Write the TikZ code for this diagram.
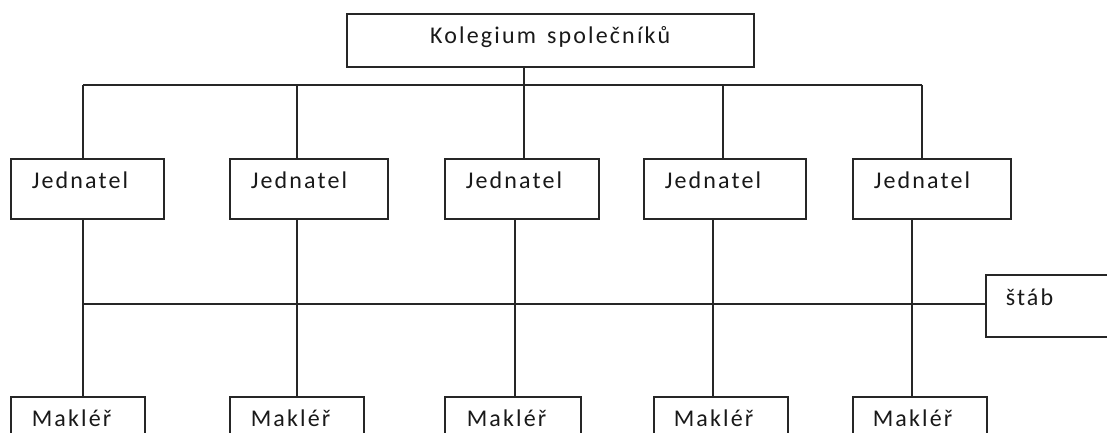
\documentclass[tikz,border=0pt]{standalone}
\usepackage{fontspec}
\setmainfont{Carlito}[LetterSpace=9]
\begin{document}
\begin{tikzpicture}[x=1pt,y=-1pt,
  line/.style={draw=black!85,line width=1.6pt},
  box/.style={draw=black!85,line width=1.6pt,rectangle,anchor=north west,
    inner xsep=21pt,inner ysep=0pt,align=left,text=black!90,
    font=\fontsize{24}{26}\selectfont},
  jbox/.style={box,text height=30pt,text depth=30pt}]
\useasboundingbox (0,0) rectangle (1107,433);
\fill[white] (0,0) rectangle (1107,433);
% top
\node[box,text width=365pt,inner xsep=21pt,align=center,text height=30pt,text depth=23pt] (top) at (346,13) {Kolegium\hspace{3pt} společníků};
% managers
\node[jbox,text width=111pt] (j1) at (10,158) {Jednatel};
\node[jbox,text width=116pt] (j2) at (229,158) {Jednatel};
\node[jbox,text width=112pt] (j3) at (444,158) {Jednatel};
\node[jbox,text width=120pt] (j4) at (643,158) {Jednatel};
\node[jbox,text width=116pt] (j5) at (852,158) {Jednatel};
% brokers
\node[jbox,text width=92pt] (m1) at (10,396) {Makléř};
\node[jbox,text width=92pt] (m2) at (229,396) {Makléř};
\node[jbox,text width=92pt,inner xsep=22pt] (m3) at (444,396) {Makléř};
\node[jbox,text width=94pt,inner xsep=20pt] (m4) at (653,396) {Makléř};
\node[jbox,text width=94pt,inner xsep=20pt] (m5) at (852,396) {Makléř};
% staff
\node[box,text width=103pt,inner xsep=20pt,text height=31pt,text depth=31pt] (stab) at (985,274) {štáb};
% coordinates
\coordinate (bl) at (83,85);
\coordinate (br) at (922,85);
\coordinate (sl) at (83,304);
% top connectors
\draw[line] (top.south -| 524,0) -- (524,85);
\draw[line] (bl) -- (br);
\draw[line] (bl) -- (j1.north -| bl);
\draw[line] (297,85) -- (j2.north -| 297,0);
\draw[line] (524,85) -- (j3.north -| 524,0);
\draw[line] (723,85) -- (j4.north -| 723,0);
\draw[line] (br) -- (j5.north -| br);
% bottom connectors
\draw[line] (j1.south -| 83,0) -- (m1.north -| 83,0);
\draw[line] (j2.south -| 297,0) -- (m2.north -| 297,0);
\draw[line] (j3.south -| 515,0) -- (m3.north -| 515,0);
\draw[line] (j4.south -| 713,0) -- (m4.north -| 713,0);
\draw[line] (j5.south -| 912,0) -- (m5.north -| 912,0);
% staff line
\draw[line] (sl) -- (stab.west |- sl);
\end{tikzpicture}
\end{document}
